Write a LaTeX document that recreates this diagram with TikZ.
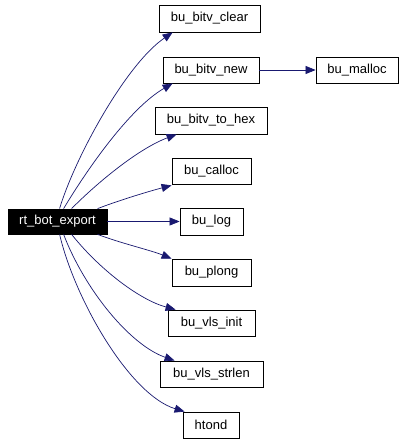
\documentclass[tikz,border=0pt]{standalone}
\usepackage{fontspec}
\setmainfont{Liberation Sans}
\usetikzlibrary{arrows.meta,calc}
\definecolor{edgeblue}{HTML}{191970}
\tikzset{
  fn/.style={draw=black, fill=white, line width=0.8pt, inner sep=0pt, minimum height=26pt, font=\fontsize{13}{15}\selectfont, text=black},
  root/.style={fn, fill=black, text=white},
  call/.style={draw=edgeblue, line width=0.7pt, -{Triangle[length=10pt,width=8pt]}, fill=none}
}
\begin{document}
\begin{tikzpicture}[x=1pt,y=-1pt]
\useasboundingbox[fill=white] (0,0) rectangle (403,443);
\node[root, minimum width=99pt, minimum height=25pt] (r) at (57.5,221.5) {rt\_bot\_export};
\node[fn, minimum width=101pt, minimum height=27pt] (clear) at (209.5,18.5) {bu\_bitv\_clear};
\node[fn, minimum width=96pt] (new) at (211,70) {bu\_bitv\_new};
\node[fn, minimum width=82pt] (malloc) at (357,70) {bu\_malloc};
\node[fn, minimum width=112pt, minimum height=27pt] (hex) at (211,120.5) {bu\_bitv\_to\_hex};
\node[fn, minimum width=79pt] (calloc) at (211.5,171) {bu\_calloc};
\node[fn, minimum width=63pt, minimum height=27pt] (log) at (211.5,221.5) {bu\_log};
\node[fn, minimum width=79pt, minimum height=27pt] (plong) at (211.5,272.5) {bu\_plong};
\node[fn, minimum width=87pt] (vinit) at (211.5,323) {bu\_vls\_init};
\node[fn, minimum width=103pt] (vstr) at (211.5,374) {bu\_vls\_strlen};
\node[fn, minimum width=56pt] (htond) at (211,425) {htond};

\draw[call] ($(r.north west)+(52,0)$) .. controls (74,160) and (125,65) .. ($(clear.south west)+(14,0)$);
\draw[call] ($(r.north west)+(56,0)$) .. controls (88,168) and (130,108) .. ($(new.south west)+(10,0)$);
\draw[call] ($(r.north west)+(64,0)$) .. controls (100,180) and (140,148) .. ($(hex.south west)+(22,0)$);
\draw[call] ($(r.north west)+(90,0)$) .. controls (120,200) and (150,191) .. ($(calloc.south west)+(0,1)$);
\draw[call] (r.east) -- (log.west);
\draw[call] ($(r.south west)+(90,0)$) .. controls (120,243) and (150,250) .. (plong.north west);
\draw[call] ($(r.south west)+(64,0)$) .. controls (100,270) and (140,300) .. ($(vinit.north west)+(8,0)$);
\draw[call] ($(r.south west)+(56,0)$) .. controls (85,290) and (130,345) .. ($(vstr.north west)+(15,0)$);
\draw[call] ($(r.south west)+(52,0)$) .. controls (75,300) and (130,395) .. ($(htond.north west)+(2,0)$);
\draw[call] (new.east) -- (malloc.west);
\end{tikzpicture}
\end{document}
